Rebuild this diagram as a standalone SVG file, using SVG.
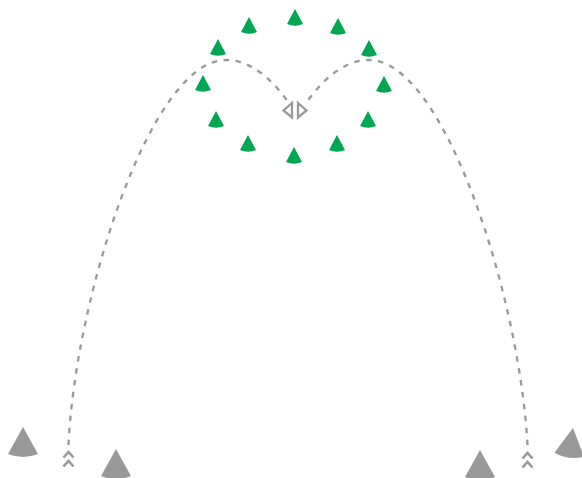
<svg xmlns="http://www.w3.org/2000/svg" width="582" height="478" viewBox="0 0 582 478">
<style>
.g{fill:#00a651}
.k{fill:#999999}
.c{fill:none;stroke:#999999;stroke-width:2.3;stroke-dasharray:5.5 6.5}
.h{fill:#fff;stroke:#999999;stroke-width:2.3;stroke-linejoin:miter}
.v{fill:none;stroke:#999999;stroke-width:2.6}
</style>
<defs>
<path id="gc" d="M0,0 L-8,15 Q0,18.5 8,15 Z"/>
<path id="kc" d="M0,0 L-15,27 Q0,33 15,27 Z"/>
<path id="ch" d="M-5,6.5 L0,1 L5,6.5 M-5,15.5 L0,10 L5,15.5"/>
</defs>
<g id="connectors">
<path class="c" d="M68.5,445 C75,300 150,60 226,60 C256,60 278,88 289,103"/>
<use class="v" href="#ch" x="68.5" y="451"/>
<path class="h" d="M292,103 L292,117.5 L283.5,110.5 Z"/>
<path class="c" d="M527.5,445 C520,300 445,60 369,60 C339,60 317,88 306,103"/>
<use class="v" href="#ch" x="527.5" y="452"/>
<path class="h" d="M298,103 L298,117.5 L306.5,110.5 Z"/>
</g>
<g id="green-cones" class="g">
<g id="g1"><use href="#gc" x="295" y="9"/></g>
<g id="g2"><use href="#gc" x="249" y="17"/></g>
<g id="g3"><use href="#gc" x="338" y="18"/></g>
<g id="g4"><use href="#gc" x="218" y="39"/></g>
<g id="g5"><use href="#gc" x="369" y="40"/></g>
<g id="g6"><use href="#gc" x="203" y="75"/></g>
<g id="g7"><use href="#gc" x="384" y="76"/></g>
<g id="g8"><use href="#gc" x="216" y="111"/></g>
<g id="g9"><use href="#gc" x="368" y="111"/></g>
<g id="g10"><use href="#gc" x="248" y="135"/></g>
<g id="g11"><use href="#gc" x="337" y="135"/></g>
<g id="g12"><use href="#gc" x="294" y="147"/></g>
</g>
<g id="gray-cones" class="k">
<g id="k1"><use href="#kc" transform="translate(23,427)"/></g>
<g id="k2"><use href="#kc" transform="translate(116,449)"/></g>
<g id="k3"><use href="#kc" transform="translate(480,450)"/></g>
<g id="k4"><use href="#kc" transform="translate(573,428) rotate(8)"/></g>
</g>
</svg>
